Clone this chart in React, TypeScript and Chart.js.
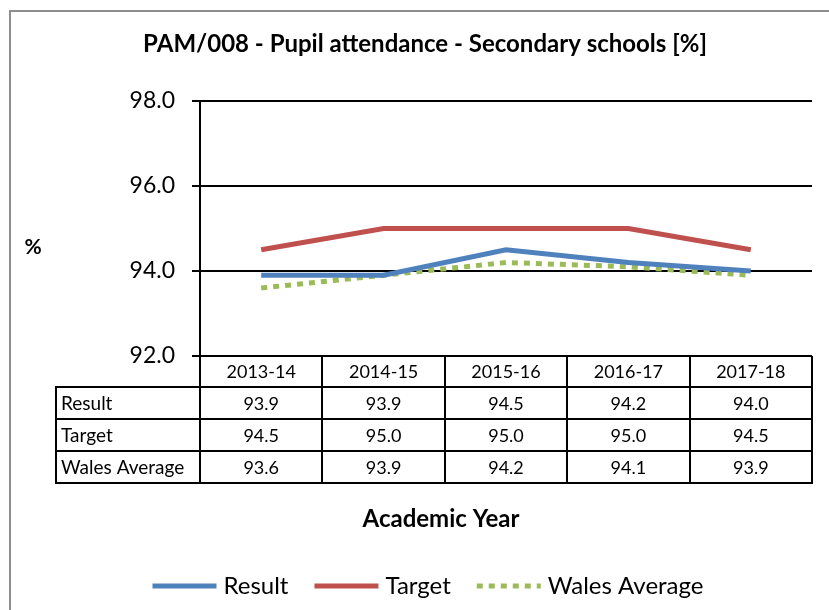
import React, { useEffect, useRef } from "react";
import { Chart, registerables } from "chart.js";

Chart.register(...registerables);

const categories = ["2013-14", "2014-15", "2015-16", "2016-17", "2017-18"];
const resultValues = [93.9, 93.9, 94.5, 94.2, 94.0];
const targetValues = [94.5, 95.0, 95.0, 95.0, 94.5];
const walesValues = [93.6, 93.9, 94.2, 94.1, 93.9];
const seriesNames = ["Result", "Target", "Wales Average"];
const seriesColors = ["#4F81BD", "#C0504D", "#9BBB59"];
const yMin = 92;
const yMax = 98;
const yStep = 2;
const chartTitle = "PAM/008 - Pupil attendance - Secondary schools [%]";
const xTitle = "Academic Year";
const yTitle = "%";

const FONT = "Lato, 'Open Sans', sans-serif";
const W = 829;
const H = 610;
const DOTS = [6, 6];

export default function App() {
  const ref = useRef<HTMLCanvasElement>(null);

  useEffect(() => {
    const canvas = ref.current;
    if (!canvas) return;
    const seriesValues = [resultValues, targetValues, walesValues];

    const decor = {
      id: "decor",
      afterDraw(chart: any) {
        const { ctx, chartArea, scales } = chart;
        const x = scales.x;
        ctx.save();

        // outer frame
        ctx.strokeStyle = "#8e8e8e";
        ctx.lineWidth = 2;
        ctx.beginPath();
        ctx.moveTo(10, H);
        ctx.lineTo(10, 11);
        ctx.lineTo(W, 11);
        ctx.stroke();

        ctx.fillStyle = "#000";
        ctx.textAlign = "center";
        ctx.textBaseline = "middle";

        // title
        ctx.font = `bold 24px ${FONT}`;
        ctx.fillText(chartTitle, 425, 44);

        // y title
        ctx.font = `bold 21px ${FONT}`;
        ctx.fillText(yTitle, 33, 247);

        // data table
        const step = x.getPixelForValue(1) - x.getPixelForValue(0);
        const left = chartArea.left;
        const right = chartArea.right;
        const labelLeft = 56;
        const headerTop = chartArea.bottom;
        const headerBottom = headerTop + 31;
        const rowH = 32;
        const tableBottom = headerBottom + rowH * seriesNames.length;

        ctx.strokeStyle = "#000";
        ctx.lineWidth = 2;
        ctx.beginPath();
        for (let r = 0; r <= seriesNames.length; r++) {
          const y = headerBottom + r * rowH;
          ctx.moveTo(labelLeft - 1, y);
          ctx.lineTo(right + 1, y);
        }
        ctx.moveTo(labelLeft, headerBottom);
        ctx.lineTo(labelLeft, tableBottom);
        for (let i = 0; i <= categories.length; i++) {
          const xx = Math.round(left + i * step);
          ctx.moveTo(xx, headerTop);
          ctx.lineTo(xx, tableBottom);
        }
        ctx.stroke();

        ctx.font = `18px ${FONT}`;
        categories.forEach((c, i) => {
          ctx.fillText(c, x.getPixelForValue(i), (headerTop + headerBottom) / 2 + 1);
        });
        seriesNames.forEach((name, r) => {
          const cy = headerBottom + r * rowH + rowH / 2 + 1;
          ctx.textAlign = "left";
          ctx.font = `19px ${FONT}`;
          ctx.fillText(name, labelLeft + 5, cy);
          ctx.textAlign = "center";
          ctx.font = `18px ${FONT}`;
          seriesValues[r].forEach((v, i) => {
            ctx.fillText(v.toFixed(1), x.getPixelForValue(i), cy);
          });
        });

        // x title
        ctx.font = `bold 24px ${FONT}`;
        ctx.fillText(xTitle, 441, 519);

        // legend
        ctx.font = `24px ${FONT}`;
        const lineLen = 64;
        const gapLineText = 7;
        const gapItems = 26;
        const widths = seriesNames.map((n) => ctx.measureText(n).width);
        const total =
          widths.reduce((a, b) => a + b, 0) +
          seriesNames.length * (lineLen + gapLineText) +
          gapItems * (seriesNames.length - 1);
        let lx = 428 - total / 2;
        const ly = 586;
        seriesNames.forEach((n, i) => {
          ctx.beginPath();
          ctx.strokeStyle = seriesColors[i];
          ctx.lineWidth = 5;
          ctx.lineCap = "butt";
          ctx.setLineDash(i === 2 ? DOTS : []);
          ctx.moveTo(lx, ly);
          ctx.lineTo(lx + lineLen, ly);
          ctx.stroke();
          ctx.setLineDash([]);
          lx += lineLen + gapLineText;
          ctx.textAlign = "left";
          ctx.fillStyle = "#000";
          ctx.fillText(n, lx, ly);
          lx += widths[i] + gapItems;
        });

        ctx.restore();
      },
    };

    const chart = new Chart(canvas, {
      type: "line",
      data: {
        labels: categories,
        datasets: seriesNames.map((name, i) => ({
          label: name,
          data: seriesValues[i],
          borderColor: seriesColors[i],
          backgroundColor: seriesColors[i],
          borderWidth: 5,
          borderDash: i === 2 ? DOTS : [],
          borderCapStyle: "butt" as const,
          pointRadius: 0,
          pointHoverRadius: 0,
          tension: 0,
          fill: false,
        })),
      },
      options: {
        responsive: false,
        animation: false,
        devicePixelRatio: 1,
        layout: { padding: { left: 0, right: W - 812, top: 101, bottom: H - 356 } },
        plugins: {
          legend: { display: false },
          title: { display: false },
          tooltip: { enabled: false },
        },
        scales: {
          x: {
            type: "category",
            display: false,
            offset: true,
          },
          y: {
            min: yMin,
            max: yMax,
            afterFit: (s: any) => {
              s.width = 200;
            },
            ticks: {
              stepSize: yStep,
              color: "#000",
              padding: 17,
              font: { family: FONT, size: 23 },
              callback: (v: any) => Number(v).toFixed(1),
            },
            grid: {
              color: "#000",
              lineWidth: 2,
              tickLength: 8,
              drawOnChartArea: true,
            },
            border: { display: true, color: "#000", width: 2 },
          },
        },
      },
      plugins: [decor],
    });

    return () => chart.destroy();
  }, []);

  return (
    <div style={{ position: "absolute", left: 0, top: 0, width: W, height: H, background: "#fff" }}>
      <canvas ref={ref} width={W} height={H} style={{ display: "block" }} />
    </div>
  );
}
